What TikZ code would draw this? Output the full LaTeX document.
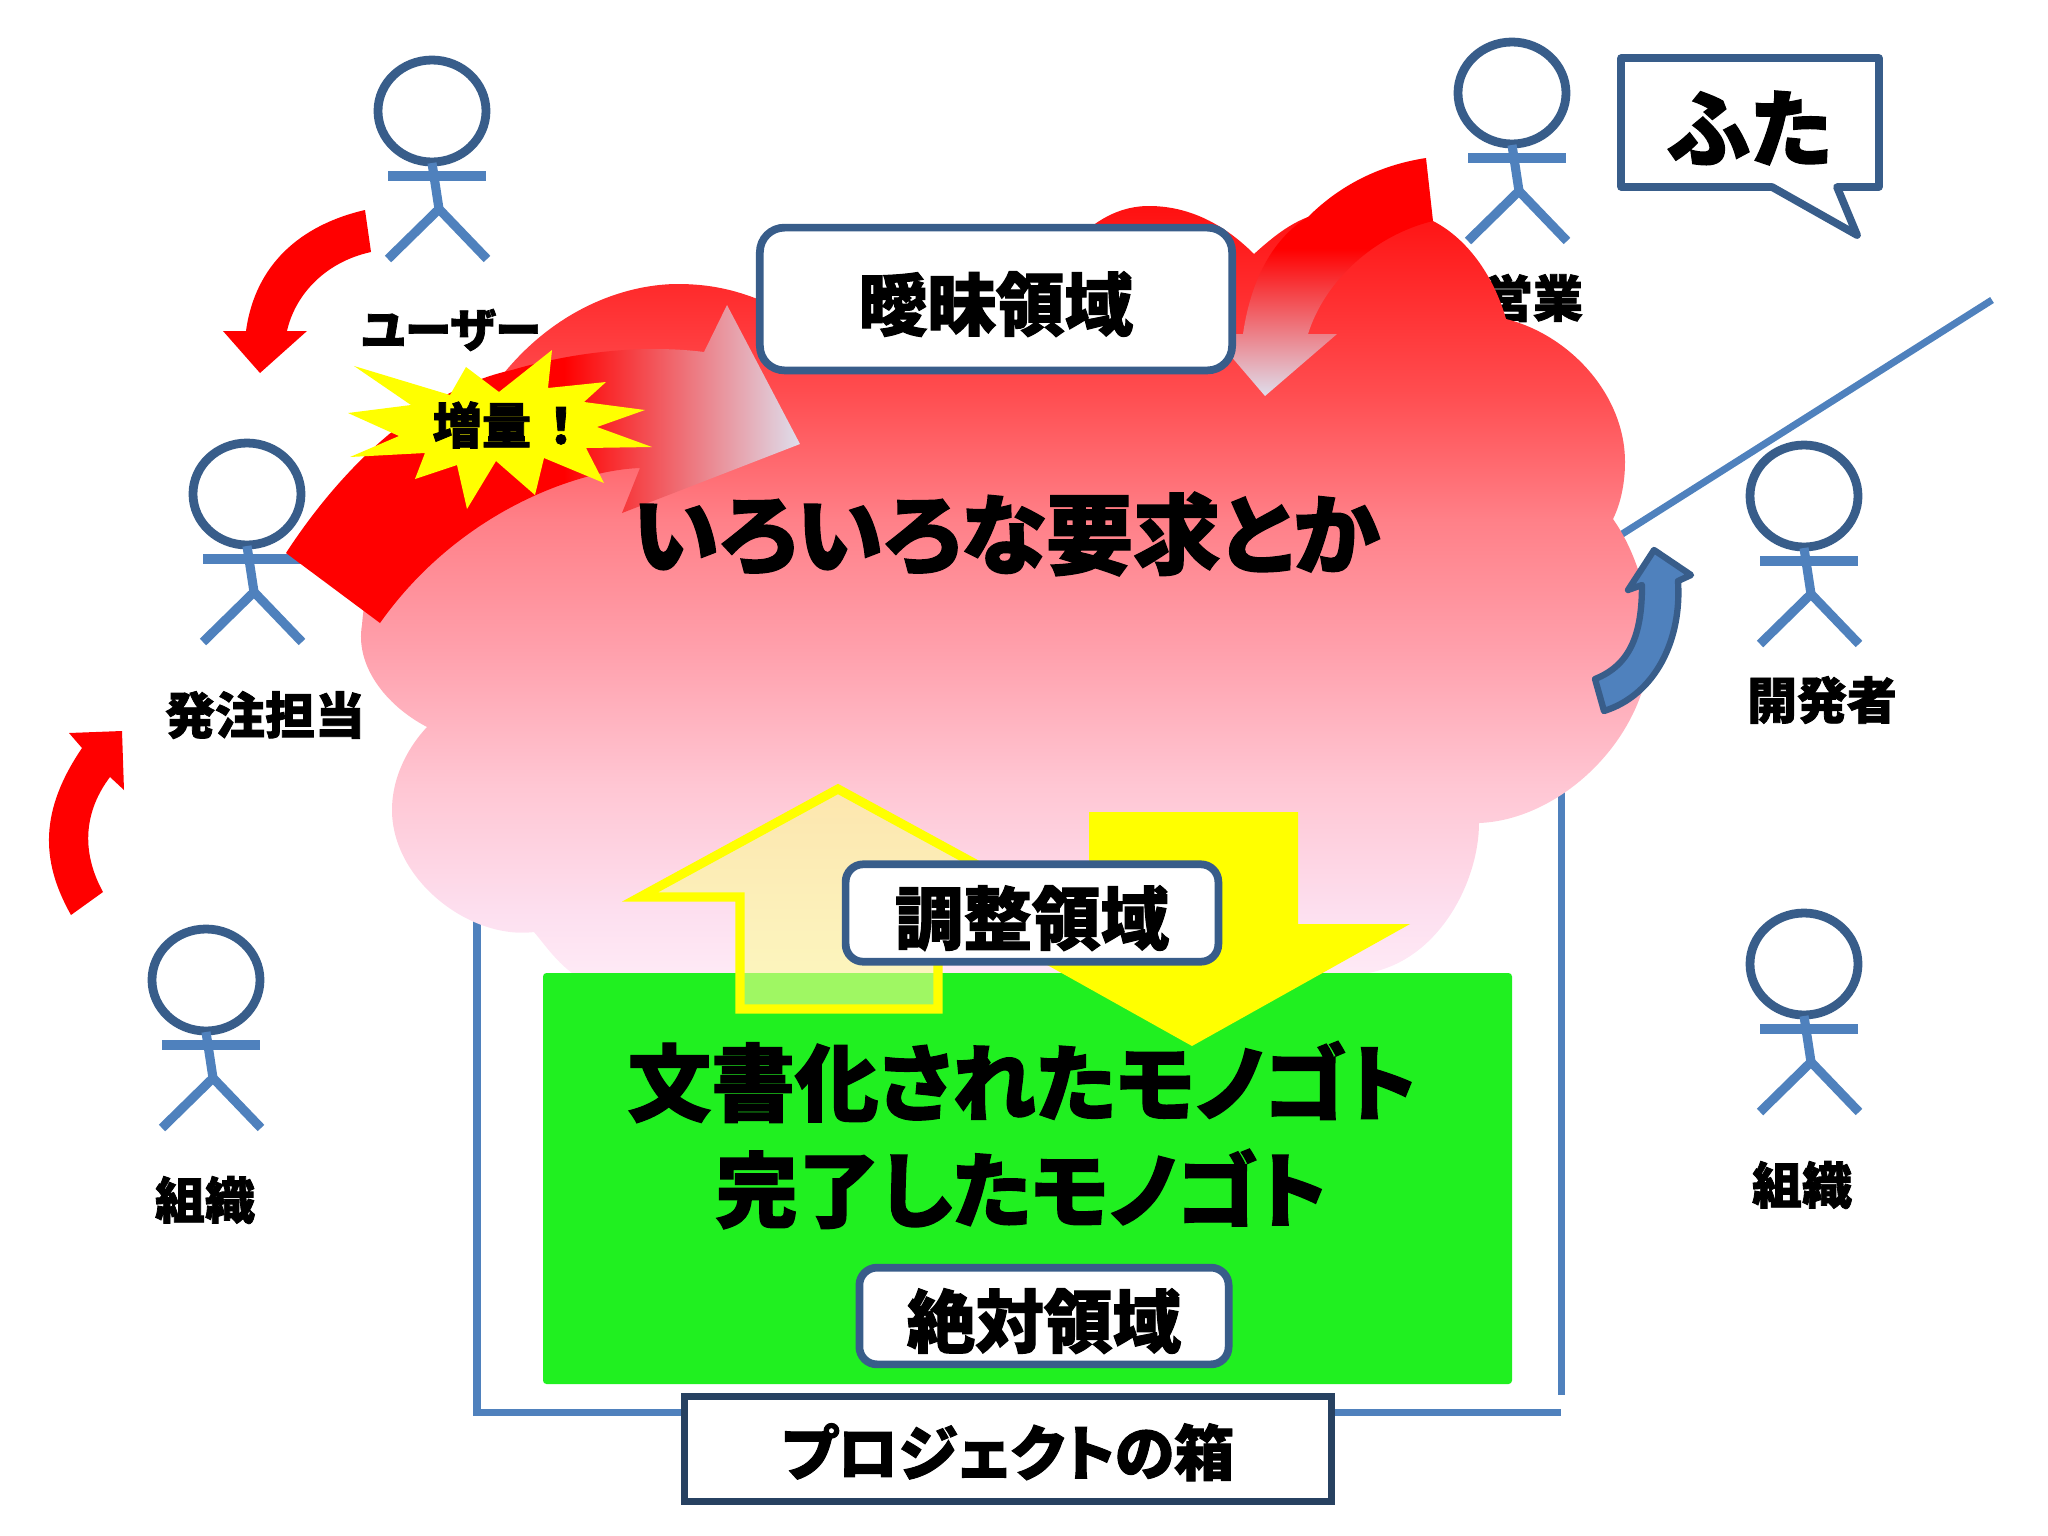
\documentclass[tikz,border=0pt]{standalone}
\usepackage{fontspec}
\newfontfamily\cjk[CharacterWidth=AlternateProportional,BoldFeatures={FakeBold=1.6}]{Noto Sans CJK JP}
\definecolor{lineblue}{RGB}{79,129,189}
\definecolor{edgeblue}{RGB}{56,93,138}
\definecolor{fadeend}{RGB}{222,222,236}
\definecolor{docgreen}{RGB}{32,240,32}
\definecolor{upfill}{RGB}{252,253,148}
\definecolor{pureyellow}{RGB}{255,255,0}
\definecolor{cloudtop}{RGB}{255,16,16}
\definecolor{cloudb}{RGB}{255,77,80}
\definecolor{cloudc}{RGB}{255,128,136}
\definecolor{cloudd}{RGB}{255,160,172}
\definecolor{cloude}{RGB}{255,198,211}
\definecolor{cloudf}{RGB}{253,224,240}
\definecolor{cloudg}{RGB}{255,238,248}
\pgfdeclarehorizontalshading{redfadeh}{100bp}{color(0bp)=(red); color(25bp)=(red); color(52bp)=(red); color(75bp)=(fadeend); color(100bp)=(fadeend)}
\pgfdeclareverticalshading{redfadev}{100bp}{color(0bp)=(fadeend); color(25bp)=(fadeend); color(56bp)=(red); color(100bp)=(red)}
\pgfdeclareverticalshading{cloudfade}{100bp}{color(0bp)=(cloudg); color(25bp)=(cloudg); color(30.3bp)=(cloudf); color(38.5bp)=(cloude); color(47bp)=(cloudd); color(55.2bp)=(cloudc); color(63.2bp)=(cloudb); color(75bp)=(cloudtop); color(100bp)=(cloudtop)}
\tikzset{
    head/.style={draw=edgeblue,line width=2.5pt},
    limb/.style={draw=lineblue,line width=2.6pt},
    frameline/.style={draw=lineblue,line width=2pt},
    redarrow/.style={fill=red},
    areabox/.style={draw=edgeblue,line width=2.2pt,fill=white,rounded corners=7pt,inner sep=0pt,text height=20pt,text depth=2.3pt,font=\cjk\bfseries\fontsize{19.5pt}{19.5pt}\selectfont},
    actorlabel/.style={font=\cjk\bfseries\fontsize{14.2pt}{14.2pt}\selectfont,inner sep=0pt},
    bigtext/.style={font=\cjk\bfseries\fontsize{23.8pt}{23.8pt}\selectfont,inner sep=0pt}
}
\begin{document}
\begin{tikzpicture}[x=0.01cm,y=-0.01cm]
    \useasboundingbox (0,0) rectangle (2048,1536);
    % box and its lid, behind the cloud
    \draw[frameline] (477,900) -- (477,1412) -- (1561,1412);
    \draw[frameline] (1561,780) -- (1561,1395);
    \coordinate (lidstart) at (1600,548);
    \coordinate (lidend) at (1992,300);
    \draw[frameline] (lidstart) -- (lidend);
    % actors
    \foreach \x/\y in {432/111,1512/93,247/494,1804/496,206/980,1804/964} {
        \begin{scope}[shift={(\x,\y)}]
            \draw[head] (0,0) ellipse (54 and 51);
            \draw[limb] (-44,65) -- (54,65);
            \draw[limb] (0,52) -- (7,98);
            \draw[limb] (-44,148) -- (7,98) -- (55,148);
        \end{scope}
    }
    \node[actorlabel,font=\cjk\bfseries\fontsize{13.2pt}{13.2pt}\selectfont] (userlabel) at (451,330) {ユーザー};
    \node[actorlabel] (saleslabel) at (1533,298) {営業};
    \node[actorlabel] (orderlabel) at (265,715) {発注担当};
    \node[actorlabel] (devlabel) at (1822,700) {開発者};
    \node[actorlabel] (orgleft) at (205,1200) {組織};
    \node[actorlabel] (orgright) at (1802,1185) {組織};
    % cloud
    \path[shading=cloudfade] (427,727) .. controls (385,705) and (355,665) .. (362,625)
        .. controls (370,520) and (440,430) .. (504,373) .. controls (560,305) and (630,284) .. (678,284)
        .. controls (710,284) and (735,290) .. (760,300) -- (1060,260)
        .. controls (1085,225) and (1115,206) .. (1149,206) .. controls (1195,206) and (1230,230) .. (1254,254)
        .. controls (1275,235) and (1290,224) .. (1308,217) .. controls (1350,205) and (1400,205) .. (1433,221)
        .. controls (1470,240) and (1495,280) .. (1506,319) .. controls (1570,335) and (1625,395) .. (1625,462)
        .. controls (1625,485) and (1620,505) .. (1613,519) .. controls (1635,550) and (1652,600) .. (1650,650)
        .. controls (1645,740) and (1560,820) .. (1479,823) .. controls (1479,880) and (1440,960) .. (1368,973)
        -- (1368,1000) -- (572,1000) -- (572,973) .. controls (555,960) and (545,945) .. (534,932)
        .. controls (470,940) and (392,880) .. (392,810) .. controls (392,775) and (410,745) .. (427,727) -- cycle;
    \fill[docgreen,rounded corners=1pt] (543,973) rectangle (1512,1384);
    % arrows
    \fill[redarrow] (365,210) .. controls (300,225) and (255,265) .. (246,331) -- (223,331) -- (260,373)
        -- (307,331) -- (287,331) .. controls (295,295) and (325,262) .. (371,252) -- cycle;
    \fill[redarrow] (71,915) .. controls (40,860) and (40,810) .. (82,748) -- (69,733) -- (122,731)
        -- (124,790) -- (110,777) .. controls (85,810) and (80,850) .. (103,892) -- cycle;
    \path[shading=redfadeh] (286,553) .. controls (340,470) and (420,390) .. (512,370)
        .. controls (580,350) and (650,345) .. (704,352) -- (727,305) -- (800,444) -- (622,513) -- (640,468)
        .. controls (580,470) and (460,510) .. (380,623) -- cycle;
    \path[shading=redfadev] (1426,158) .. controls (1380,165) and (1340,185) .. (1308,217)
        .. controls (1270,240) and (1250,285) .. (1243,334) -- (1212,334) -- (1265,396) -- (1337,334)
        -- (1308,334) .. controls (1325,280) and (1375,235) .. (1433,221) -- cycle;
    \draw[draw=edgeblue,fill=lineblue,line width=1.8pt,line join=round] (1595,679) .. controls (1630,665) and (1642,635) .. (1642,585)
        -- (1628,590) -- (1654,550) -- (1691,575) -- (1678,581) .. controls (1682,640) and (1655,695) .. (1604,711) -- cycle;
    \draw[draw=pureyellow,fill=upfill,fill opacity=0.58,line width=2.6pt,miter limit=10] (838,789) -- (1036,897) -- (938,897) -- (938,1009)
        -- (740,1009) -- (740,897) -- (640,897) -- cycle;
    \fill[pureyellow] (1089,812) -- (1298,812) -- (1298,924) -- (1410,924) -- (1192,1046) -- (974,924) -- (1089,924) -- cycle;
    % burst
    \fill[pureyellow] (354,366) -- (450,395) -- (466,367) -- (499,392) -- (552,350) -- (548,388) -- (606,382) -- (584,402)
        -- (645,410) -- (597,427) -- (652,447) -- (586,448) -- (604,483) -- (544,458) -- (535,495) -- (496,461)
        -- (467,509) -- (457,465) -- (415,479) -- (425,453) -- (350,457) -- (399,436) -- (348,413) -- (411,405) -- cycle;
    \node[font=\cjk\bfseries\fontsize{14pt}{14pt}\selectfont,inner sep=0pt] (burstlabel) at (503,425) {増量\hspace{5pt}！};
    % speech bubble
    \draw[draw=edgeblue,fill=white,line width=2.2pt,line join=round] (1621,58) -- (1879,58) -- (1879,187) -- (1837,187)
        -- (1857,235) -- (1772,187) -- (1621,187) -- cycle;
    \node[font=\cjk\bfseries\fontsize{24pt}{24pt}\selectfont,inner sep=0pt] (bubblelabel) at (1750,128) {ふた};
    % labelled areas
    \node[areabox,minimum width=134.3pt,minimum height=40.6pt] (vaguebox) at (996,299) {曖昧領域};
    \node[areabox,rounded corners=5pt,minimum width=106pt,minimum height=27.7pt] (adjustbox) at (1032,913) {調整領域};
    \node[areabox,rounded corners=5pt,minimum width=105pt,minimum height=27.5pt] (fixedbox) at (1044,1316) {絶対領域};
    \node[bigtext,font=\cjk\bfseries\fontsize{24.8pt}{24.8pt}\selectfont] (reqtext) at (1006,534) {いろいろな要求とか};
    \node[bigtext] (doctext) at (1022,1082) {文書化されたモノゴト};
    \node[bigtext,font=\cjk\bfseries\fontsize{23.4pt}{23.4pt}\selectfont] (donetext) at (1021,1189) {完了したモノゴト};
    \node[draw=edgeblue!70!black,fill=white,line width=2pt,inner sep=0pt,text height=17pt,text depth=2pt,minimum width=184pt,minimum height=30pt,font=\cjk\bfseries\fontsize{17.1pt}{17.1pt}\selectfont] (boxlabel) at (1008,1449) {プロジェクトの箱};
\end{tikzpicture}
\end{document}
